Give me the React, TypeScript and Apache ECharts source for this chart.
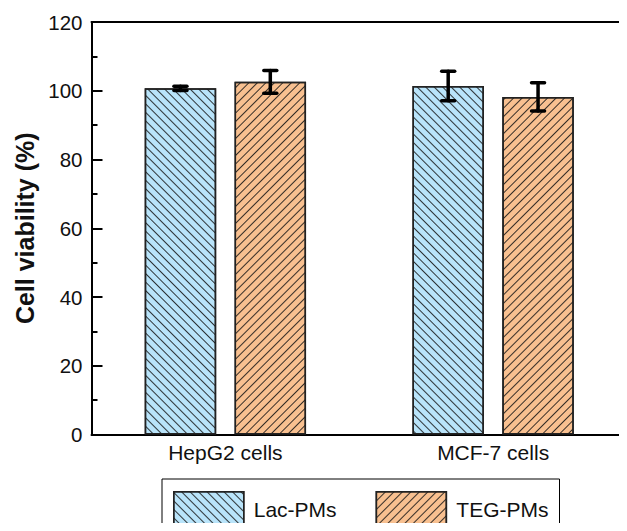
import React, { useEffect, useRef } from "react";
import * as echarts from "echarts";

const categories = ["HepG2 cells", "MCF-7 cells"];
const seriesNames = ["Lac-PMs", "TEG-PMs"];
const lacValues = [100.7, 101.4];
const lacErrors = [0.6, 4.3];
const tegValues = [102.6, 98.2];
const tegErrors = [3.3, 4.1];
const yTicks = { min: 0, max: 120, interval: 20 };

const FONT = "'Liberation Sans', Arial, sans-serif";
const BAR_W = 0.267;
const BAR_GAP = 0.257;

const makeDecal = (rot: number) => ({
  symbol: "rect",
  symbolSize: 1,
  color: "rgba(20,20,20,0.85)",
  dashArrayX: [1, 0],
  dashArrayY: [1, 4.3],
  rotation: rot,
});

const errorSeries = (name: string, values: number[], errors: number[], sign: number) => ({
  type: "custom",
  name,
  z: 5,
  silent: true,
  data: values.map((v, i) => [i, v, errors[i]]),
  encode: { x: 0, y: 1 },
  renderItem: (params: any, api: any) => {
    const cat = api.value(0);
    const v = api.value(1);
    const e = api.value(2);
    const band = api.size([1, 0])[0];
    const off = (sign * band * BAR_W * (1 + BAR_GAP)) / 2;
    const top = api.coord([cat, v + e]);
    const bot = api.coord([cat, v - e]);
    const x = top[0] + off;
    const cap = 6.5;
    const st = { stroke: "#000", lineWidth: 3.5, lineCap: "round" };
    return {
      type: "group",
      children: [
        { type: "line", shape: { x1: x, y1: top[1], x2: x, y2: bot[1] }, style: st },
        { type: "line", shape: { x1: x - cap, y1: top[1], x2: x + cap, y2: top[1] }, style: st },
        { type: "line", shape: { x1: x - cap, y1: bot[1], x2: x + cap, y2: bot[1] }, style: st },
      ],
    };
  },
});

export default function App() {
  const ref = useRef<HTMLDivElement>(null);
  useEffect(() => {
    if (!ref.current) return;
    const chart = echarts.init(ref.current, null, { renderer: "svg" });
    chart.setOption({
      animation: false,
      backgroundColor: "#fff",
      textStyle: { fontFamily: FONT },
      grid: { left: 91.5, right: -3, top: 22, bottom: 96.5 },
      legend: {
        data: seriesNames,
        left: 162,
        top: 479,
        orient: "horizontal",
        padding: [12, 11, 12, 11],
        itemGap: 39,
        itemWidth: 70,
        itemHeight: 35,
        borderColor: "#000",
        borderWidth: 1,
        selectedMode: false,
        icon: "rect",
        textStyle: { fontSize: 21, color: "#111", fontFamily: FONT, padding: [0, 0, 0, 5] },
        itemStyle: { borderWidth: 1.5, borderColor: "#222" },
      },
      xAxis: [
        {
          type: "category",
          data: categories,
          position: "bottom",
          axisLine: { show: true, lineStyle: { color: "#000", width: 2 } },
          axisTick: { show: false },
          axisLabel: { fontSize: 21, color: "#111", margin: 7, fontFamily: FONT },
        },
        {
          type: "category",
          data: categories,
          position: "top",
          axisLine: { show: true, lineStyle: { color: "#000", width: 2 } },
          axisTick: { show: false },
          axisLabel: { show: false },
        },
      ],
      yAxis: {
        type: "value",
        min: yTicks.min,
        max: yTicks.max,
        interval: yTicks.interval,
        name: "Cell viability (%)",
        nameLocation: "middle",
        nameGap: 52,
        nameTextStyle: { fontSize: 25, fontWeight: "bold", color: "#111", fontFamily: FONT },
        axisLine: { show: true, lineStyle: { color: "#000", width: 2 } },
        axisTick: { show: true, inside: true, length: 11, lineStyle: { color: "#000", width: 2 } },
        minorTick: { show: true, splitNumber: 2, length: 6, lineStyle: { color: "#000", width: 2 } },
        axisLabel: { fontSize: 20.5, color: "#111", margin: 9, fontFamily: FONT },
        splitLine: { show: false },
      },
      series: [
        {
          type: "bar",
          name: seriesNames[0],
          data: lacValues,
          barWidth: (BAR_W * 100).toFixed(1) + "%",
          barGap: (BAR_GAP * 100).toFixed(1) + "%",
          itemStyle: {
            color: "#b9e4fa",
            borderColor: "#222",
            borderWidth: 1.5,
            decal: makeDecal(Math.PI / 4),
          },
        },
        {
          type: "bar",
          name: seriesNames[1],
          data: tegValues,
          barWidth: (BAR_W * 100).toFixed(1) + "%",
          barGap: (BAR_GAP * 100).toFixed(1) + "%",
          itemStyle: {
            color: "#f8c090",
            borderColor: "#222",
            borderWidth: 1.5,
            decal: makeDecal(-Math.PI / 4),
          },
        },
        errorSeries("Lac-err", lacValues, lacErrors, -1),
        errorSeries("TEG-err", tegValues, tegErrors, 1),
      ],
    });
    return () => chart.dispose();
  }, []);
  return <div ref={ref} style={{ width: 627, height: 531, margin: -8 }} />;
}
